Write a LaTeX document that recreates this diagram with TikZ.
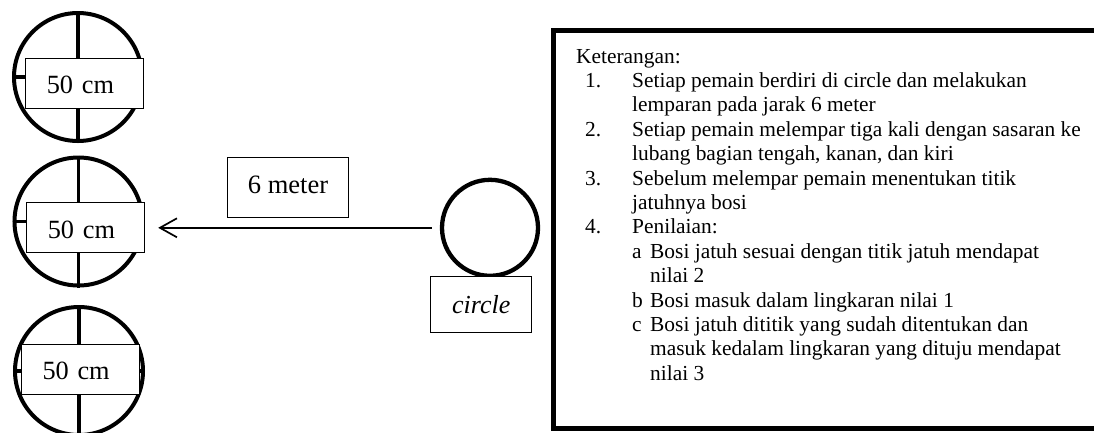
\documentclass[tikz,border=0pt]{standalone}
\usepackage{fontspec}
\setmainfont{Liberation Serif}
\usetikzlibrary{arrows.meta}
\begin{document}
\begin{tikzpicture}[x=1pt,y=-1pt,
  target/.style={circle, draw, line width=4pt, minimum size=128pt, inner sep=0pt},
  crossline/.style={line width=3.3pt},
  sizebox/.style={draw, line width=0.8pt, fill=white, inner xsep=21pt, inner ysep=0pt,
    minimum width=118pt, minimum height=50pt, text width=76pt, align=left,
    text height=21pt, text depth=0pt, font=\fontsize{26.3}{30}\selectfont},
  labelbox/.style={draw, line width=0.8pt, fill=white, inner sep=0pt,
    font=\fontsize{26.5}{30}\selectfont},
  throwarrow/.style={line width=1.7pt, -{Straight Barb[length=17pt, width=19pt, line width=1.7pt]}},
]
\useasboundingbox (0,0) rectangle (1094,432);
\clip (0,0) rectangle (1094,432);

% targets
\node[target] (t1) at (78,77) {};
\node[target] (t2) at (78.5,221.5) {};
\node[target] (t3) at (79,371) {};
\foreach \t in {t1,t2,t3}{
  \draw[crossline] (\t.north) -- (\t.south);
  \draw[crossline] (\t.west) -- (\t.east);
}
\node[sizebox] (b1) at (84.8,83.3) {50 cm};
\node[sizebox] (b2) at (85.8,227.7) {50 cm};
\node[sizebox] (b3) at (80.5,369) {50 cm};

% throwing circle
\node[circle, draw, line width=4.3pt, minimum size=96pt, inner sep=0pt] (sc) at (490,227.8) {};
\node[labelbox, minimum width=101pt, minimum height=55.6pt, font=\fontsize{26}{30}\selectfont\itshape] (cl) at (481.2,304.5) {circle};

% distance
\node[labelbox, minimum width=121.4pt, minimum height=60pt, text height=12pt, text depth=0pt] (dist) at (288,187.3) {6 meter};
\draw[throwarrow, shorten <=8pt, shorten >=13pt] (sc.west) -- (b2.east |- sc.west);

% legend
\node[draw, line width=5pt, outer sep=0pt, inner sep=0pt, minimum width=560pt, minimum height=398pt, anchor=north west] (legend) at (553,30.5) {};
\node[anchor=base west, inner sep=0pt, font=\fontsize{21.4}{24.4}\selectfont] (legtext) at (576,63) {%
\begin{tabular}[t]{@{}p{56pt}@{}p{18pt}@{}l@{}}
\multicolumn{3}{@{}l@{}}{Keterangan:}\\
\hspace*{9pt}1. & \multicolumn{2}{@{}l@{}}{Setiap pemain berdiri di circle dan melakukan}\\
 & \multicolumn{2}{@{}l@{}}{lemparan pada jarak 6 meter}\\
\hspace*{9pt}2. & \multicolumn{2}{@{}l@{}}{Setiap pemain melempar tiga kali dengan sasaran ke}\\
 & \multicolumn{2}{@{}l@{}}{lubang bagian tengah, kanan, dan kiri}\\
\hspace*{9pt}3. & \multicolumn{2}{@{}l@{}}{Sebelum melempar pemain menentukan titik}\\
 & \multicolumn{2}{@{}l@{}}{jatuhnya bosi}\\
\hspace*{9pt}4. & \multicolumn{2}{@{}l@{}}{Penilaian:}\\
 & a & Bosi jatuh sesuai dengan titik jatuh mendapat\\
 & & nilai 2\\
 & b & Bosi masuk dalam lingkaran nilai 1\\
 & c & Bosi jatuh dititik yang sudah ditentukan dan\\
 & & masuk kedalam lingkaran yang dituju mendapat\\
 & & nilai 3
\end{tabular}};
\end{tikzpicture}
\end{document}
